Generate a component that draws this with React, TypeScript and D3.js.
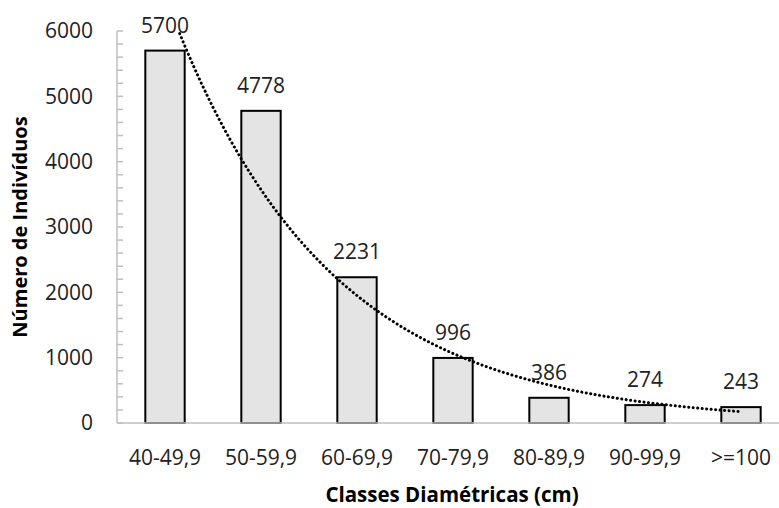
import React from "react";
import * as d3 from "d3";

// classes diamétricas e número de indivíduos
const classes = ["40-49,9", "50-59,9", "60-69,9", "70-79,9", "80-89,9", "90-99,9", ">=100"];
const individuos = [5700, 4778, 2231, 996, 386, 274, 243];
const yTicks = [0, 1000, 2000, 3000, 4000, 5000, 6000];

const W = 779;
const H = 508;
const font = "'Open Sans', 'DejaVu Sans', sans-serif";

export default function App() {
  const left = 117;
  const top = 31;
  const bottom = 423;
  const axisEnd = 779;

  const x = d3.scaleBand<string>().domain(classes).range([left, left + 96 * 7]).paddingInner(0.59).paddingOuter(0.295);
  const y = d3.scaleLinear().domain([0, 6000]).range([bottom, top]);
  const minor = d3.range(0, 6001, 200);

  // linha de tendência exponencial (ajuste por mínimos quadrados em ln y, como o Excel)
  const xs = individuos.map((_, i) => i + 1);
  const ln = individuos.map((v) => Math.log(v));
  const mx = d3.mean(xs) as number;
  const ml = d3.mean(ln) as number;
  const b = d3.sum(xs.map((xi, i) => (xi - mx) * (ln[i] - ml))) / d3.sum(xs.map((xi) => (xi - mx) ** 2));
  const a = Math.exp(ml - b * mx);
  const cx = (k: number) => (x(classes[0]) as number) + x.bandwidth() / 2 + (k - 1) * x.step();
  const pts = d3.range(1, 7.001, 0.05).map((k) => [cx(k), y(a * Math.exp(b * k))] as [number, number]);
  const trend = d3.line()(pts) as string;

  return (
    <svg width={W} height={H} style={{ position: "absolute", left: 0, top: 0, background: "#fff" }}>
      <defs>
        <clipPath id="plot">
          <rect x={left} y={top} width={axisEnd - left} height={bottom - top} />
        </clipPath>
      </defs>
      {/* eixo y */}
      <line x1={left} x2={left} y1={top} y2={bottom} stroke="#bfbfbf" strokeWidth={1.5} />
      {minor.map((t) => (
        <line key={t} x1={left} x2={left + 6} y1={y(t)} y2={y(t)} stroke="#bfbfbf" strokeWidth={1.5} />
      ))}
      {yTicks.map((t) => (
        <text key={t} x={93} y={y(t)} dy="0.35em" textAnchor="end" fontFamily={font} fontSize={21} fill="#222">
          {t}
        </text>
      ))}
      {/* barras */}
      {classes.map((c, i) => (
        <g key={c}>
          <rect
            x={x(c)}
            y={y(individuos[i])}
            width={x.bandwidth()}
            height={bottom - y(individuos[i])}
            fill="#e4e4e4"
            stroke="#000"
            strokeWidth={2}
          />
          <text
            x={(x(c) as number) + x.bandwidth() / 2}
            y={y(individuos[i]) - 18}
            textAnchor="middle"
            fontFamily={font}
            fontSize={21}
            fill="#222"
          >
            {individuos[i]}
          </text>
          <text
            x={(x(c) as number) + x.bandwidth() / 2}
            y={bottom + 35}
            dy="0.35em"
            textAnchor="middle"
            fontFamily={font}
            fontSize={21}
            fill="#222"
          >
            {c}
          </text>
        </g>
      ))}
      {/* eixo x */}
      <line x1={left} x2={axisEnd} y1={bottom} y2={bottom} stroke="#bfbfbf" strokeWidth={1.5} />
      <path
        d={trend}
        clipPath="url(#plot)"
        fill="none"
        stroke="#000"
        strokeWidth={3}
        strokeLinecap="round"
        strokeDasharray="0.1 4.4"
      />
      <text x={452} y={502} textAnchor="middle" fontFamily={font} fontSize={20.5} fontWeight="bold" fill="#000">
        Classes Diamétricas (cm)
      </text>
      <text
        transform={`translate(20, ${(top + bottom) / 2}) rotate(-90)`}
        dy="0.35em"
        textAnchor="middle"
        fontFamily={font}
        fontSize={20}
        fontWeight="bold"
        fill="#000"
      >
        Número de Indivíduos
      </text>
    </svg>
  );
}
